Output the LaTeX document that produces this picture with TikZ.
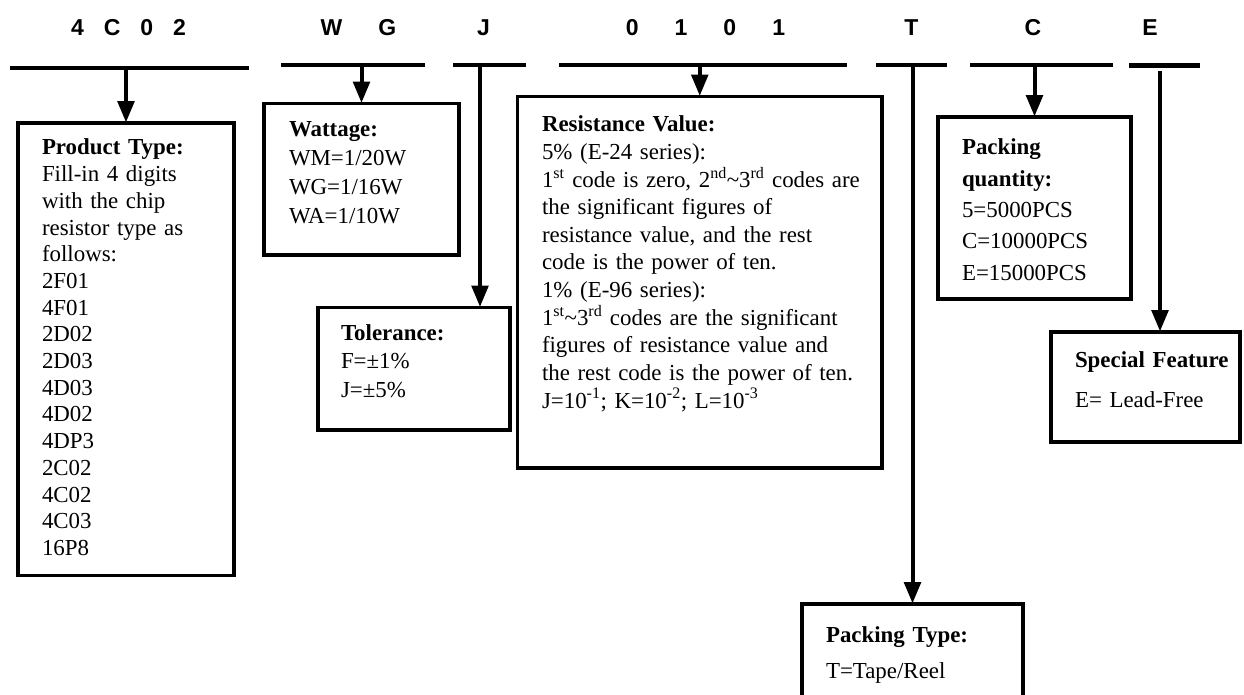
\documentclass[tikz,border=0pt]{standalone}
\usepackage{fontspec}
\setmainfont{Liberation Serif}
\newfontfamily\codefont{Liberation Sans}
\usetikzlibrary{arrows}

\newcommand{\boxfont}[1]{\fontsize{22.9}{#1}\selectfont}
\newcommand{\lgap}{\hspace{20pt}}
\newcommand{\wgap}{\hspace{36pt}}

\begin{document}
\begin{tikzpicture}[x=1pt,y=-1pt,->,>=triangle 45,shorten >=1pt,line width=4pt,
	  code/.style={font=\codefont\fontsize{23}{27}\selectfont\bfseries,inner sep=0pt,anchor=base},
	  bar/.style={fill=black,minimum height=4.5pt,inner sep=0pt,outer sep=0pt},
	  box/.style={draw,line width=3.8pt,inner sep=0pt,outer sep=0pt},
	  info/.style={anchor=base west,inner sep=0pt,text width=420pt,align=left}]

	\useasboundingbox (0,0) rectangle (1244,695);

		% code letters
		\node[code] (c4c02) at (128.5,36) {4\lgap C\lgap 0\lgap 2};
		\node[code] (cwg) at (358.5,36) {W\wgap G};
		\node[code] (cj) at (483.5,36) {J};
		\node[code] (c0101) at (705.5,36) {0\wgap 1\wgap 0\wgap 1};
		\node[code] (ct) at (911.5,36) {T};
		\node[code] (cc) at (1033,36) {C};
		\node[code] (ce) at (1150,36) {E};

		% bars under the codes
		\node[bar, minimum width=239pt] (bar1) at (129.6,68.2) {};
		\node[bar, minimum width=144pt] (bar2) at (353,65) {};
		\node[bar, minimum width=73pt] (bar3) at (489.5,65) {};
		\node[bar, minimum width=288pt] (bar4) at (703,65) {};
		\node[bar, minimum width=71pt] (bar5) at (911.6,65) {};
		\node[bar, minimum width=143pt] (bar6) at (1041.5,65) {};
		\node[bar, minimum width=71pt] (bar7) at (1164.6,65.5) {};
		\coordinate (jdrop) at (480,65);
		\coordinate (edrop) at (1160,71);

		% boxes
		\node[box, minimum width=216pt, minimum height=452.5pt] (type) at (126,349.25) {};
		\node[box, minimum width=195pt, minimum height=151.5pt] (watt) at (361.5,179.25) {};
		\node[box, minimum width=192pt, minimum height=122.5pt] (tol) at (414,368.75) {};
		\node[box, minimum width=364.5pt, minimum height=371.5pt] (res) at (699.75,282.25) {};
		\node[box, minimum width=193pt, minimum height=182pt] (qty) at (1034.5,208) {};
		\node[box, minimum width=189pt, minimum height=110pt] (feat) at (1145.5,387) {};
		\node[box, minimum width=221pt, minimum height=136pt] (pack) at (912.5,672) {};

		% texts
		\node[info, font=\boxfont{26.7}] (type text) at (40,155) {\textbf{Product Type:}\\
			Fill-in 4 digits\\ with the chip\\ resistor type as\\ follows:\\
			2F01\\ 4F01\\ 2D02\\ 2D03\\ 4D03\\ 4D02\\ 4DP3\\ 2C02\\ 4C02\\ 4C03\\ 16P8};
		\node[info, font=\boxfont{28.7}] (watt text) at (287,137) {\textbf{Wattage:}\\
			WM=1/20W\\ WG=1/16W\\ WA=1/10W};
		\node[info, font=\boxfont{28.5}] (tol text) at (339,340) {\textbf{Tolerance:}\\
			F=±1\%\\ J=±5\%};
		\node[info, font=\boxfont{27.6}] (res text) at (540,132) {\textbf{Resistance Value:}\\
			5\% (E-24 series):\\
			1\textsuperscript{st} code is zero, 2\textsuperscript{nd}\textasciitilde 3\textsuperscript{rd} codes are\\
			the significant figures of\\
			resistance value, and the rest\\
			code is the power of ten.\\
			1\% (E-96 series):\\
			1\textsuperscript{st}\textasciitilde 3\textsuperscript{rd} codes are the significant\\
			figures of resistance value and\\
			the rest code is the power of ten.\\
			J=10\textsuperscript{-1}; K=10\textsuperscript{-2}; L=10\textsuperscript{-3}};
		\node[info, font=\boxfont{31.3}] (qty text) at (960,155) {\textbf{Packing}\\
			\textbf{quantity:}\\ 5=5000PCS\\ C=10000PCS\\ E=15000PCS};
		\node[info, font=\boxfont{40}] (feat text) at (1073,367) {\textbf{Special Feature}\\
			E= Lead-Free};
		\node[info, font=\boxfont{36}] (pack text) at (824,642) {\textbf{Packing Type:}\\
			T=Tape/Reel};

	\path
		(bar1 -| type) edge (type)
		(bar2 -| watt) edge (watt)
		(jdrop) edge (jdrop |- tol.north)
		(bar4 -| res) edge (res)
		(bar5 -| pack) edge (pack)
		(bar6 -| qty) edge (qty)
		(edrop) edge (edrop |- feat.north);

\end{tikzpicture}
\end{document}
